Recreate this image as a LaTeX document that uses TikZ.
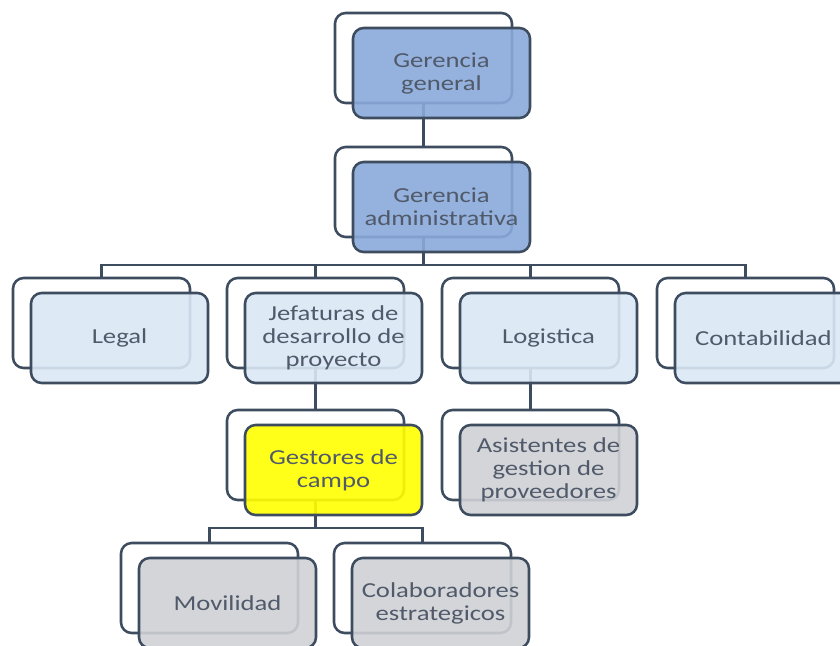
\documentclass[tikz,border=0pt]{standalone}
\usepackage{fontspec}
\newfontfamily\cajafont{Carlito}[FakeStretch=1.25]
\definecolor{borde}{RGB}{62,76,96}
\definecolor{texto}{RGB}{80,90,106}
\definecolor{azul}{RGB}{138,169,218}
\definecolor{celeste}{RGB}{218,232,245}
\definecolor{amarillo}{RGB}{255,255,0}
\definecolor{gris}{RGB}{207,209,213}
\tikzset{
  caja/.style={draw=borde, line width=1.9pt, rounded corners=8pt,
    minimum width=132.75pt, minimum height=67.5pt, inner sep=0pt},
  atras/.style={caja, fill=white},
  frente/.style={caja, fill opacity=0.9, text opacity=1, text=texto,
    align=center, font=\cajafont\fontsize{16}{17.25}\selectfont},
  linea/.style={draw=borde, line width=1.9pt}
}
\begin{document}
\begin{tikzpicture}[x=0.75pt, y=-0.75pt]
    \useasboundingbox (0,0) rectangle (840,646);

    % Cajas de fondo
    \foreach \n/\x/\y in {gg/423.5/58, ga/423.5/192, legal/101.5/323,
        jef/315.5/323, log/530.5/323, cont/745.5/323, gest/315.5/455,
        asis/530.5/455, mov/209.5/588, col/422.5/588}
        \node[atras] (\n) at (\x,\y) {};

    % Conectores
    \coordinate (bus1) at (423.5,265);
    \coordinate (bus2) at (315.5,528);
    \draw[linea] (gg.south) -- (ga.north);
    \draw[linea] (ga.south) -- (bus1);
    \foreach \n in {legal,jef,log,cont}
        \draw[linea] (\n.north) |- (bus1);
    \draw[linea] (jef.south) -- (gest.north);
    \draw[linea] (log.south) -- (asis.north);
    \draw[linea] (gest.south) -- (bus2);
    \foreach \n in {mov,col}
        \draw[linea] (\n.north) |- (bus2);

    % Cajas de frente
    \foreach \n/\c/\t in {gg/azul/{Gerencia\\general},
        ga/azul/{Gerencia\\administrativa},
        legal/celeste/{Legal},
        jef/celeste/{Jefaturas de\\desarrollo de\\proyecto},
        log/celeste/{Logistica},
        cont/celeste/{Contabilidad},
        gest/amarillo/{Gestores de\\campo},
        asis/gris/{Asistentes de\\gestion de\\proveedores},
        mov/gris/{Movilidad},
        col/gris/{Colaboradores\\estrategicos}}
        \node[frente, fill=\c] (\n f) at ([shift={(18,15)}]\n) {\t};
\end{tikzpicture}
\end{document}
